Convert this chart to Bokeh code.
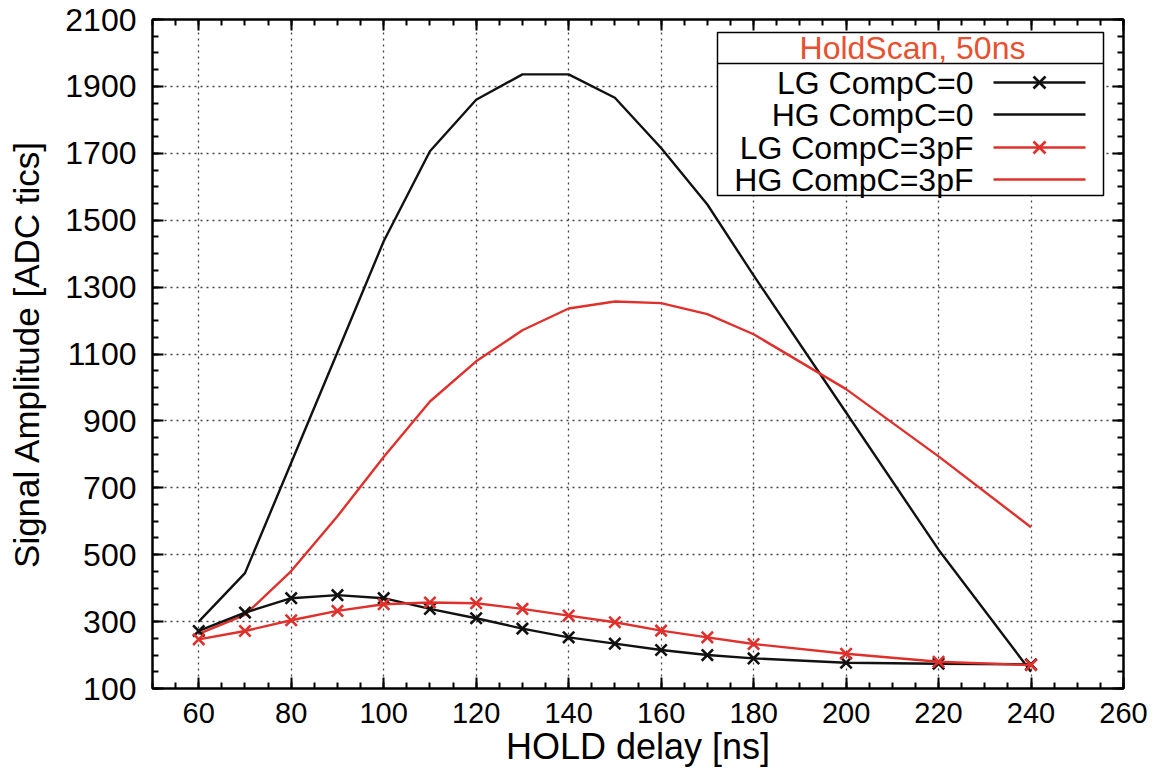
from bokeh.plotting import figure
from bokeh.models import (Range1d, FixedTicker, LinearAxis, BoxAnnotation, Label,
                          PolyAnnotation)
from bokeh.embed import file_html
from bokeh.resources import INLINE

# ---------------- data ----------------
delay = [60, 70, 80, 90, 100, 110, 120, 130, 140, 150, 160, 170, 180, 200, 220, 240]
lg_c0 = [272, 327, 370, 379, 370, 338, 310, 279, 253, 234, 215, 200, 190, 177, 174, 172]
hg_c0 = [300, 445, 775, 1105, 1437, 1706, 1860, 1936, 1936, 1866, 1716, 1547, 1335, 925, 515, 150]
lg_c3 = [247, 272, 304, 332, 352, 357, 355, 338, 318, 298, 273, 253, 233, 204, 180, 170]
hg_c3 = [263, 320, 451, 615, 792, 958, 1078, 1171, 1236, 1257, 1252, 1219, 1159, 995, 794, 582]

x_ticks = [60, 80, 100, 120, 140, 160, 180, 200, 220, 240, 260]
y_ticks = [100, 300, 500, 700, 900, 1100, 1300, 1500, 1700, 1900, 2100]
x_minor = list(range(50, 261, 5))
y_minor = list(range(100, 2101, 50))

legend_title = "HoldScan, 50ns"
legend_labels = ["LG CompC=0", "HG CompC=0", "LG CompC=3pF", "HG CompC=3pF"]

BLACK = "#111111"
RED = "#e0302c"
TITLE_RED = "#e8502f"
FONT = "Liberation Sans"

p = figure(width=1154, height=778, x_range=Range1d(50, 260), y_range=Range1d(100, 2100),
           output_backend="svg", toolbar_location=None,
           min_border_left=152, min_border_right=31, min_border_top=19, min_border_bottom=90)
p.background_fill_color = "white"
p.border_fill_color = "white"
p.outline_line_color = "black"
p.outline_line_width = 2

xt = FixedTicker(ticks=x_ticks, minor_ticks=x_minor)
yt = FixedTicker(ticks=y_ticks, minor_ticks=y_minor)

def style_axis(ax):
    ax.axis_line_color = "black"
    ax.axis_line_width = 2
    ax.major_tick_in = 11
    ax.major_tick_out = 0
    ax.minor_tick_in = 6
    ax.minor_tick_out = 0
    ax.major_tick_line_width = 2
    ax.minor_tick_line_width = 2
    ax.major_tick_line_color = "black"
    ax.minor_tick_line_color = "black"

xa = p.xaxis[0]
xa.ticker = xt
style_axis(xa)
xa.major_label_text_font = FONT
xa.major_label_text_font_size = "29px"
xa.major_label_text_color = "black"
xa.major_label_standoff = 14
xa.axis_label = "HOLD delay [ns]"
xa.axis_label_text_font = FONT
xa.axis_label_text_font_size = "36px"
xa.axis_label_text_font_style = "normal"
xa.axis_label_text_color = "black"
xa.axis_label_standoff = 0

ya = p.yaxis[0]
ya.ticker = yt
style_axis(ya)
ya.major_label_text_font = FONT
ya.major_label_text_font_size = "32px"
ya.major_label_text_color = "black"
ya.major_label_standoff = 16
ya.axis_label = "Signal Amplitude [ADC tics]"
ya.axis_label_text_font = FONT
ya.axis_label_text_font_size = "35px"
ya.axis_label_text_font_style = "normal"
ya.axis_label_text_color = "black"
ya.axis_label_standoff = 16

# mirror axes (ticks only)
ra = LinearAxis(ticker=yt)
style_axis(ra)
ra.major_label_text_font_size = "0px"
ra.major_label_overrides = {t: "" for t in y_ticks}
ra.major_label_standoff = 0
p.add_layout(ra, "right")
ta = LinearAxis(ticker=xt)
style_axis(ta)
ta.major_label_text_font_size = "0px"
ta.major_label_overrides = {t: "" for t in x_ticks}
ta.major_label_standoff = 0
p.add_layout(ta, "above")

for g, t in ((p.xgrid[0], xt), (p.ygrid[0], yt)):
    g.ticker = t
    g.grid_line_color = "#444444"
    g.grid_line_dash = "2 4"
    g.grid_line_width = 1.3

# ---------------- series ----------------
p.line(delay, hg_c0, line_color=BLACK, line_width=2.4)
p.line(delay, hg_c3, line_color=RED, line_width=2.4)
p.line(delay, lg_c0, line_color=BLACK, line_width=2.4)
p.scatter(delay, lg_c0, marker="x", size=16, line_color=BLACK, line_width=2.6)
p.line(delay, lg_c3, line_color=RED, line_width=2.4)
p.scatter(delay, lg_c3, marker="x", size=16, line_color=RED, line_width=2.6)

# ---------------- legend (drawn by hand, gnuplot style) ----------------
L, R, T, B, SEP = 565, 951, 656, 493, 625
p.add_layout(BoxAnnotation(left=L, right=R, top=T, bottom=B,
                           left_units="screen", right_units="screen",
                           top_units="screen", bottom_units="screen",
                           fill_color="white", fill_alpha=1.0,
                           line_color="black", line_alpha=1.0, line_width=1.5))
p.add_layout(PolyAnnotation(xs=[L, R], ys=[SEP, SEP], xs_units="screen", ys_units="screen",
                            fill_alpha=0, line_color="black", line_alpha=1.0, line_width=1.5))
p.add_layout(Label(x=(L + R) / 2 + 2, y=(T + SEP) / 2, x_units="screen", y_units="screen",
                   text=legend_title, text_align="center", text_baseline="middle",
                   text_font=FONT, text_font_size="32px", text_color=TITLE_RED))
rows_y = [606, 574, 541, 509]
colors = [BLACK, BLACK, RED, RED]
markers = [True, False, True, False]
for lab, yy, c, m in zip(legend_labels, rows_y, colors, markers):
    p.add_layout(Label(x=821, y=yy, x_units="screen", y_units="screen", text=lab,
                       text_align="right", text_baseline="middle",
                       text_font=FONT, text_font_size="32px", text_color="black"))
    p.add_layout(PolyAnnotation(xs=[841, 933], ys=[yy, yy], xs_units="screen", ys_units="screen",
                                fill_alpha=0, line_color=c, line_alpha=1.0, line_width=2.4))
    if m:
        p.add_layout(PolyAnnotation(xs=[881, 893], ys=[yy - 6, yy + 6], xs_units="screen",
                                    ys_units="screen", fill_alpha=0, line_color=c,
                                    line_alpha=1.0, line_width=2.6))
        p.add_layout(PolyAnnotation(xs=[881, 893], ys=[yy + 6, yy - 6], xs_units="screen",
                                    ys_units="screen", fill_alpha=0, line_color=c,
                                    line_alpha=1.0, line_width=2.6))

open("out.html", "w").write(file_html(p, INLINE))
